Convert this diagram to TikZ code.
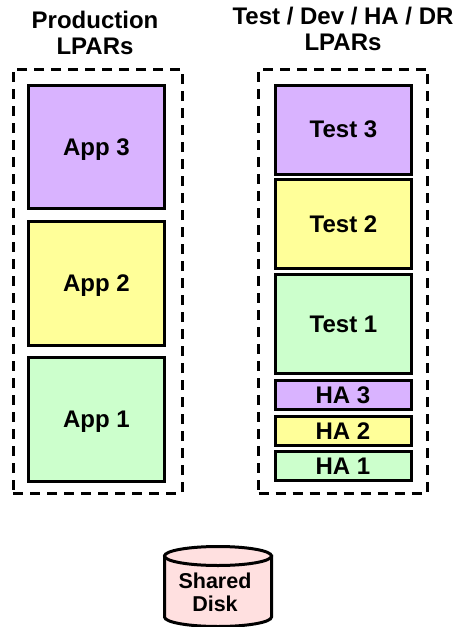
\documentclass[tikz,border=0pt]{standalone}
\usepackage{fontspec}
\setmainfont{Liberation Sans}
\usetikzlibrary{positioning}
\definecolor{lparpurple}{HTML}{D9B3FF}
\definecolor{lparyellow}{HTML}{FFFF99}
\definecolor{lpargreen}{HTML}{CCFFCC}
\definecolor{diskpink}{HTML}{FFE0E0}
\tikzset{
	lpar/.style={draw=black, line width=3pt, minimum width=136pt, inner sep=0pt, text depth=0pt, font=\fontsize{24}{26}\selectfont\bfseries},
	group/.style={draw=black, line width=3pt, dash pattern=on 10pt off 7pt, minimum width=169pt, minimum height=424pt},
	heading/.style={align=center, inner sep=0pt, font=\fontsize{24}{26}\selectfont\bfseries},
	disk/.style={draw=black, line width=3pt, fill=diskpink}
}

\begin{document}
\begin{tikzpicture}[x=1pt, y=-1pt]
	\useasboundingbox (0,0) rectangle (457,627);

	\node[heading] (TitleProd) at (95,32.5) {Production\\LPARs};
	\node[heading] (TitleTest) at (343,29) {Test / Dev / HA / DR\\LPARs};

	\node[group] (GroupProd) at (97.5,281) {};
	\node[group] (GroupTest) at (343,281) {};

	\node[lpar, fill=lparpurple, minimum height=123.5pt] (App3) at (96.5,146.8) {App 3};
	\node[lpar, fill=lparyellow, minimum height=123.5pt] (App2) at (96.5,283.5) {App 2};
	\node[lpar, fill=lpargreen, minimum height=123.5pt] (App1) at (96.5,419.5) {App 1};

	\node[lpar, fill=lparpurple, minimum height=89pt] (Test3) at (343.5,129.5) {Test 3};
	\node[lpar, fill=lparyellow, minimum height=89pt] (Test2) at (343.5,224) {Test 2};
	\node[lpar, fill=lpargreen, minimum height=99pt] (Test1) at (343.5,324) {Test 1};
	\node[lpar, fill=lparpurple, minimum height=29.5pt] (HA3) at (343,394.75) {HA 3};
	\node[lpar, fill=lparyellow, minimum height=29.5pt] (HA2) at (343,430.75) {HA 2};
	\node[lpar, fill=lpargreen, minimum height=29.5pt] (HA1) at (343,466) {HA 1};

	\draw[disk] (164.5,556) -- (164.5,617) arc[start angle=180, end angle=360, x radius=53.5pt, y radius=9.5pt] -- (271.5,556) -- cycle;
	\draw[disk] (218,556) circle[x radius=53.5pt, y radius=9.5pt];
	\node[align=center, inner sep=0pt, font=\fontsize{21.5}{23}\selectfont\bfseries] (DiskLabel) at (215,592) {Shared\\Disk};
\end{tikzpicture}
\end{document}
